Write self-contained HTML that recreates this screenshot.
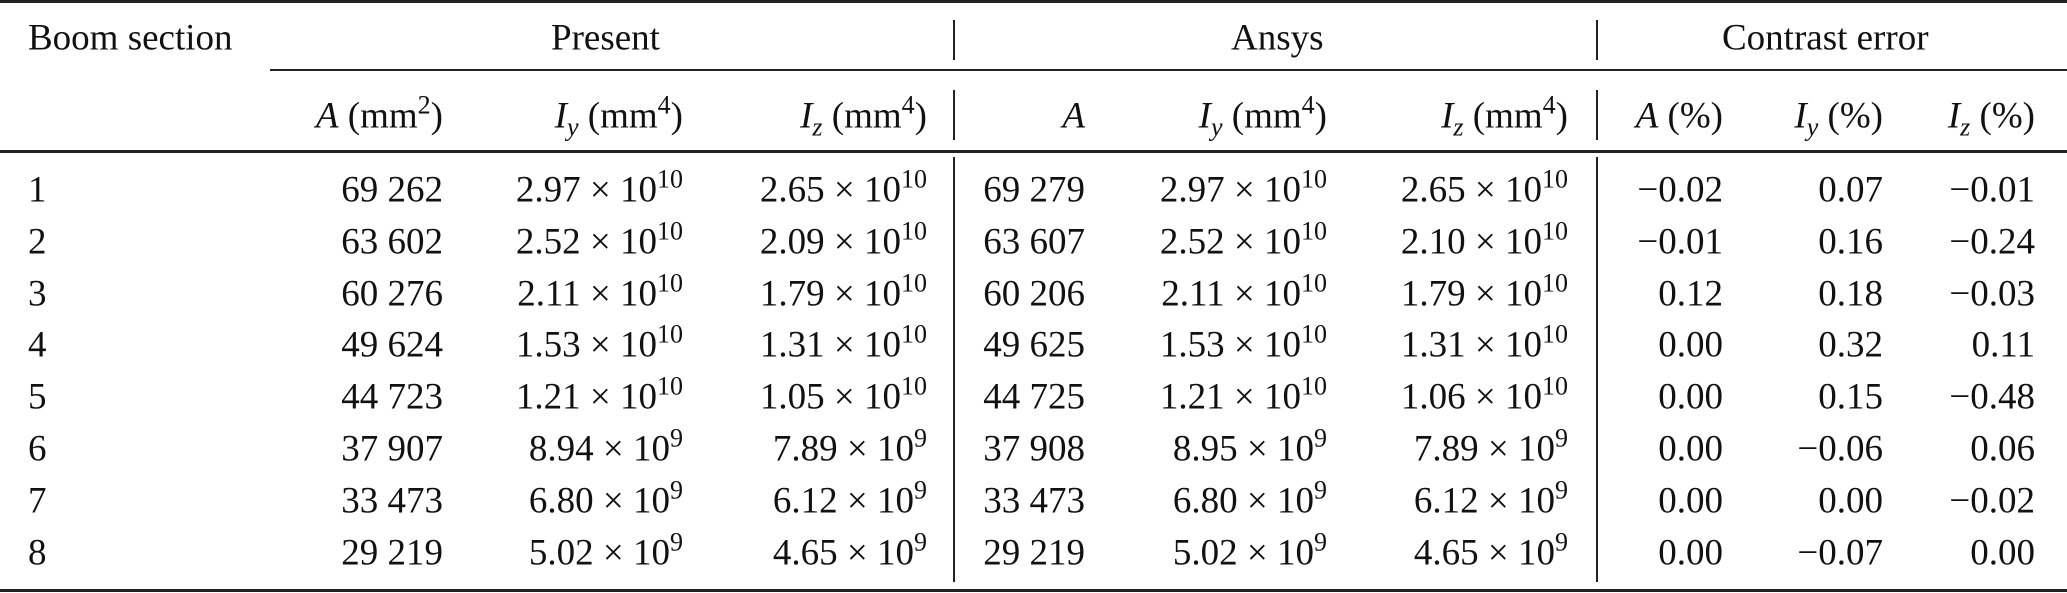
<!DOCTYPE html>
<html><head><meta charset="utf-8">
<style>
html,body{margin:0;padding:0;background:#fff;}
#t{position:relative;width:2067px;height:593px;overflow:hidden;font-family:"Liberation Serif",serif;font-size:37px;color:#111;}
.c{position:absolute;white-space:nowrap;line-height:1;transform:translateY(-50%);}
.r{text-align:right;}
.rule{position:absolute;background:#222;}
sup{font-size:26px;vertical-align:0;position:relative;top:-14px;}
sub{font-size:26px;vertical-align:0;position:relative;top:8px;font-style:italic;}
i{font-style:italic;}
</style></head><body>
<div id="t">
<div class="rule" style="left:0;top:0;width:2067px;height:3px"></div>
<div class="rule" style="left:270px;top:69px;width:1797px;height:2px"></div>
<div class="rule" style="left:0;top:150px;width:2067px;height:3px"></div>
<div class="rule" style="left:0;top:589px;width:2067px;height:3px"></div>
</div>
<script>
const sections=["1","2","3","4","5","6","7","8"];
const presentA=["69 262","63 602","60 276","49 624","44 723","37 907","33 473","29 219"];
const presentIy=["2.97|10","2.52|10","2.11|10","1.53|10","1.21|10","8.94|9","6.80|9","5.02|9"];
const presentIz=["2.65|10","2.09|10","1.79|10","1.31|10","1.05|10","7.89|9","6.12|9","4.65|9"];
const ansysA=["69 279","63 607","60 206","49 625","44 725","37 908","33 473","29 219"];
const ansysIy=["2.97|10","2.52|10","2.11|10","1.53|10","1.21|10","8.95|9","6.80|9","5.02|9"];
const ansysIz=["2.65|10","2.10|10","1.79|10","1.31|10","1.06|10","7.89|9","6.12|9","4.65|9"];
const errA=["−0.02","−0.01","0.12","0.00","0.00","0.00","0.00","0.00"];
const errIy=["0.07","0.16","0.18","0.32","0.15","−0.06","0.00","−0.07"];
const errIz=["−0.01","−0.24","−0.03","0.11","−0.48","0.06","−0.02","0.00"];
const t=document.getElementById('t');
function cell(html,x,y,right,name){
  const d=document.createElement('div');
  d.className='c'+(right?' r':'');
  d.innerHTML=html;
  d.style.top=y+'px';
  if(right){d.style.right=(2067-x)+'px';}else{d.style.left=x+'px';}
  
  
  t.appendChild(d);
}
function sci(s){const p=s.split('|');return p[0]+' × 10<sup>'+p[1]+'</sup>';}
function vline(x,y1,y2,name){
  const d=document.createElement('div');
  d.className='rule';
  d.style.left=x+'px';d.style.top=y1+'px';d.style.width='2px';d.style.height=(y2-y1)+'px';
  
  
  t.appendChild(d);
}
cell('Boom section',28,38,false,'header-boom-section');
cell('Present',613-62,38,false,'header-present');
cell('Ansys',1276-45,38,false,'header-ansys');
cell('Contrast error',1832-110,38,false,'header-contrast-error');
const colR=[443,683,927,1085,1327,1568,1723,1883,2035];
const h2=['<i>A</i> (mm<sup>2</sup>)','<i>I</i><sub>y</sub> (mm<sup>4</sup>)','<i>I</i><sub>z</sub> (mm<sup>4</sup>)','<i>A</i>','<i>I</i><sub>y</sub> (mm<sup>4</sup>)','<i>I</i><sub>z</sub> (mm<sup>4</sup>)','<i>A</i> (%)','<i>I</i><sub>y</sub> (%)','<i>I</i><sub>z</sub> (%)'];
h2.forEach((h,i)=>cell(h,colR[i],116,true,'column-header-'+(i+1)));
vline(953,20,60,'divider-header-1');vline(1596,20,60,'divider-header-2');
vline(953,90,140,'divider-subheader-1');vline(1596,90,140,'divider-subheader-2');
vline(953,157,582,'divider-body-1');vline(1596,157,582,'divider-body-2');
const y0=190,dy=51.8;
sections.forEach((s,i)=>{
  const y=y0+i*dy;
  cell(s,28,y,false,'row-'+s+'-section');
  cell(presentA[i],colR[0],y,true,'row-'+s+'-present-a');
  cell(sci(presentIy[i]),colR[1],y,true,'row-'+s+'-present-iy');
  cell(sci(presentIz[i]),colR[2],y,true,'row-'+s+'-present-iz');
  cell(ansysA[i],colR[3],y,true,'row-'+s+'-ansys-a');
  cell(sci(ansysIy[i]),colR[4],y,true,'row-'+s+'-ansys-iy');
  cell(sci(ansysIz[i]),colR[5],y,true,'row-'+s+'-ansys-iz');
  cell(errA[i],colR[6],y,true,'row-'+s+'-error-a');
  cell(errIy[i],colR[7],y,true,'row-'+s+'-error-iy');
  cell(errIz[i],colR[8],y,true,'row-'+s+'-error-iz');
});
</script>
</body></html>
